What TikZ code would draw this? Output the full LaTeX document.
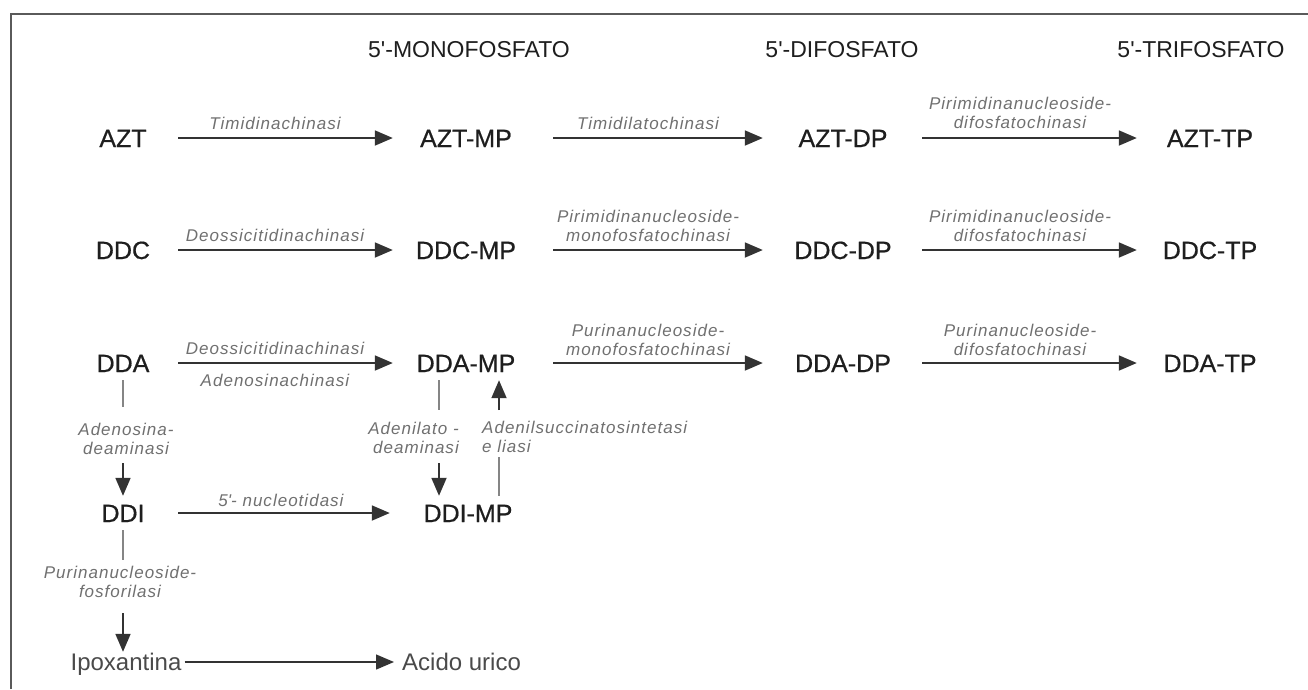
\documentclass[tikz,border=0pt]{standalone}
\usepackage{fontspec}
\setmainfont{Liberation Sans}
\newfontfamily\lblfont[LetterSpace=6]{Liberation Sans}
\newfontfamily\cmpfont[FakeBold=0.6]{Liberation Sans}
\usetikzlibrary{arrows.meta}
\definecolor{ink}{HTML}{1E1E1E}
\definecolor{lblgray}{HTML}{707070}
\definecolor{linegray}{HTML}{333333}
\definecolor{softgray}{HTML}{858585}
\definecolor{framegray}{HTML}{5A5A5A}
\definecolor{bottomink}{HTML}{4A4A4A}
\begin{document}
\begin{tikzpicture}[x=1pt,y=-1pt,
  cmp/.style={inner sep=0pt, minimum width=110pt, minimum height=34pt, text height=18pt, text depth=0pt, font=\cmpfont\fontsize{25}{30}\selectfont, text=ink},
  low/.style={inner sep=0pt, minimum height=20pt, text height=17pt, text depth=0pt, font=\fontsize{24}{29}\selectfont, text=bottomink},
  hdr/.style={inner sep=0pt, font=\fontsize{23}{28}\selectfont, text=ink},
  enz/.style={inner sep=0pt, align=center, font=\lblfont\itshape\fontsize{17}{19}\selectfont, text=lblgray},
  arr/.style={draw=linegray, line width=1.8pt, -{Triangle[length=18pt,width=15pt]}},
  thinarr/.style={draw=linegray, line width=1.3pt, -{Triangle[length=18pt,width=15pt]}},
  seg/.style={draw=softgray, line width=1.5pt},
]
\useasboundingbox (0,0) rectangle (1308,689);
\fill[white] (0,0) rectangle (1308,689);
\draw[framegray, line width=2pt] (11,689) -- (11,14) -- (1308,14);

% headers
\node[hdr] (hMono) at (469,50) {5\textquotesingle-MONOFOSFATO};
\node[hdr] (hDi) at (842,50) {5\textquotesingle-DIFOSFATO};
\node[hdr] (hTri) at (1201,50) {5\textquotesingle-TRIFOSFATO};

% compounds
\node[cmp] (AZT)   at (123,138) {AZT};
\node[cmp] (AZTMP) at (466,138) {AZT-MP};
\node[cmp] (AZTDP) at (843,138) {AZT-DP};
\node[cmp] (AZTTP) at (1210,138) {AZT-TP};
\node[cmp] (DDC)   at (123,250) {DDC};
\node[cmp] (DDCMP) at (466,250) {DDC-MP};
\node[cmp] (DDCDP) at (843,250) {DDC-DP};
\node[cmp] (DDCTP) at (1210,250) {DDC-TP};
\node[cmp] (DDA)   at (123,363) {DDA};
\node[cmp] (DDAMP) at (466,363) {DDA-MP};
\node[cmp] (DDADP) at (843,363) {DDA-DP};
\node[cmp] (DDATP) at (1210,363) {DDA-TP};
\node[cmp] (DDI)   at (123,513) {DDI};
\node[cmp] (DDIMP) at (468,513) {DDI-MP};
\node[low] (Ipox)  at (126,662) {Ipoxantina};
\node[low, anchor=west] (Acido) at (402,662) {Acido urico};

% horizontal arrows
\draw[arr, shorten >=18pt] (AZT) -- (AZTMP);
\draw[arr, shorten <=32pt, shorten >=25pt] (AZTMP) -- (AZTDP);
\draw[arr, shorten <=24pt, shorten >=18pt] (AZTDP) -- (AZTTP);
\draw[arr, shorten >=18pt] (DDC) -- (DDCMP);
\draw[arr, shorten <=32pt, shorten >=25pt] (DDCMP) -- (DDCDP);
\draw[arr, shorten <=24pt, shorten >=18pt] (DDCDP) -- (DDCTP);
\draw[arr, shorten >=18pt] (DDA) -- (DDAMP);
\draw[arr, shorten <=32pt, shorten >=25pt] (DDAMP) -- (DDADP);
\draw[arr, shorten <=24pt, shorten >=18pt] (DDADP) -- (DDATP);
\draw[arr, shorten >=23pt] (DDI) -- (DDIMP);
\draw[thinarr, shorten <=3pt, shorten >=8pt] (Ipox) -- (Acido);

% enzyme labels on horizontal arrows
\node[enz] (eAZT1) at (275,123) {Timidinachinasi};
\node[enz] (eAZT2) at (648,123) {Timidilatochinasi};
\node[enz] (eAZT3) at (1020,113) {Pirimidinanucleoside-\\difosfatochinasi};
\node[enz] (eDDC1) at (275,235) {Deossicitidinachinasi};
\node[enz] (eDDC2) at (648,226) {Pirimidinanucleoside-\\monofosfatochinasi};
\node[enz] (eDDC3) at (1020,226) {Pirimidinanucleoside-\\difosfatochinasi};
\node[enz] (eDDA1) at (275,348) {Deossicitidinachinasi};
\node[enz] (eDDA1b) at (275,380) {Adenosinachinasi};
\node[enz] (eDDA2) at (648,340) {Purinanucleoside-\\monofosfatochinasi};
\node[enz] (eDDA3) at (1020,340) {Purinanucleoside-\\difosfatochinasi};
\node[enz] (eDDI) at (281,500) {5\textquotesingle- nucleotidasi};

% vertical connectors
\node[enz] (eAda) at (126,439) {Adenosina-\\deaminasi};
\coordinate (a1) at (123,407);
\coordinate (a2) at (123,463);
\draw[seg] (DDA) -- (a1);
\draw[arr] (a2) -- (DDI);

\node[enz] (ePnp) at (120,582) {Purinanucleoside-\\fosforilasi};
\coordinate (b1) at (123,560);
\coordinate (b2) at (123,613);
\draw[seg] (DDI) -- (b1);
\draw[arr] (b2) -- (b2 |- Ipox.north);

\node[enz, align=right, anchor=east] (eAdl) at (459,438) {Adenilato -\\deaminasi};
\coordinate (c1) at (439,410);
\coordinate (c2) at (439,463);
\draw[seg] (c1 |- DDAMP.south) -- (c1);
\draw[arr] (c2) -- (c2 |- DDIMP.north);

\node[enz, align=left, anchor=west] (eAds) at (482,437) {Adenilsuccinatosintetasi\\e liasi};
\coordinate (d1) at (499,457);
\coordinate (d2) at (499,410);
\draw[seg] (d1 |- DDIMP.north) -- (d1);
\draw[arr] (d2) -- (d2 |- DDAMP.south);
\end{tikzpicture}
\end{document}
